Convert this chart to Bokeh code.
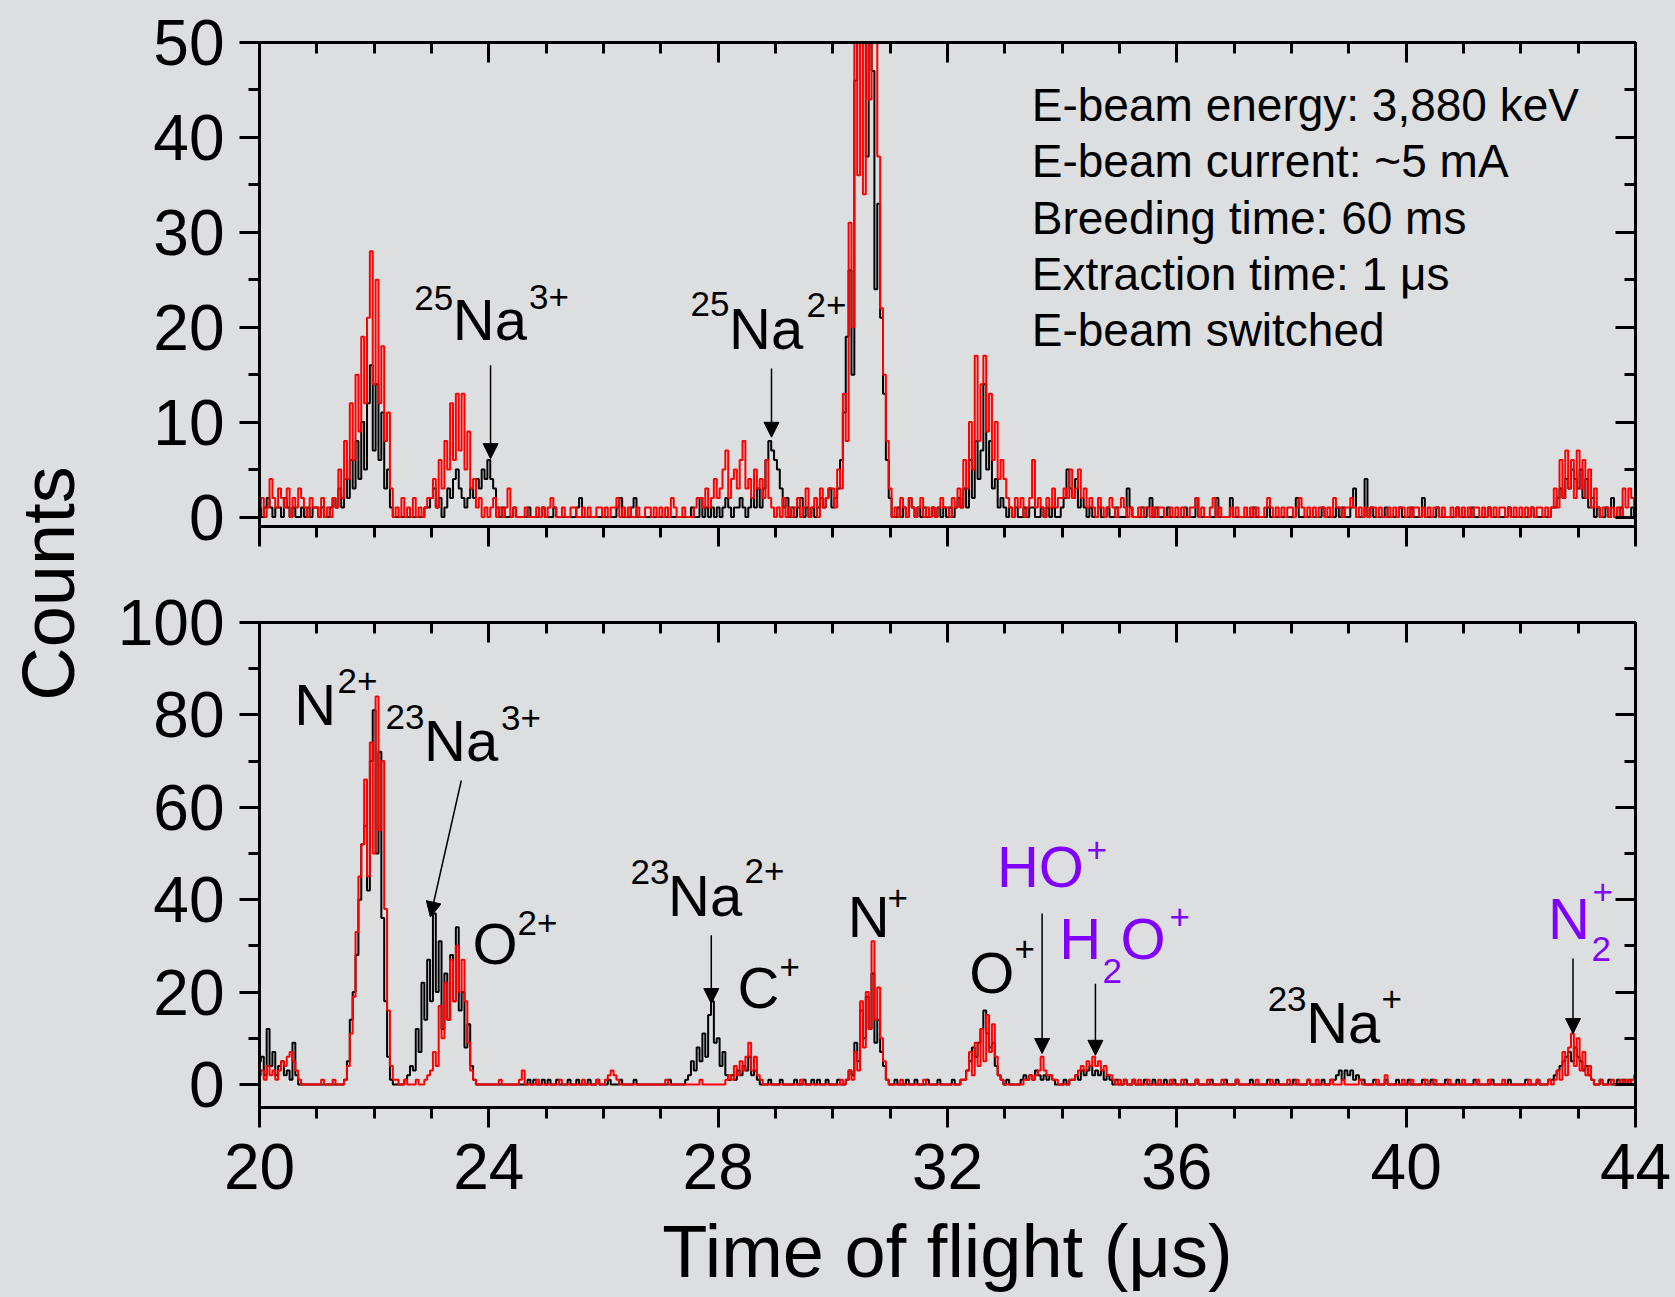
import math
from bokeh.plotting import figure
from bokeh.models import Range1d, LinearAxis, FixedTicker, Label, Arrow, NormalHead, ColumnDataSource
from bokeh.layouts import row, column
from bokeh.embed import file_html
from bokeh.resources import INLINE

# ---------------- data (counts per 0.05 us bin) ----------------
TOF_START = 20.0
TOF_STEP = 0.05

top_black = (
    [1,0,1,2,1,0,1,1,0,2,1,0,1,0,0,1,0,1,0,1] +
    [1,0,1,0,0,1,2,1,3,1,4,2,6,3,8,4,10,5,12,16] +
    [7,14,6,11,3,5,1,0,0,0,0,0,0,0,0,0,0,0,1,1] +
    [2,3,1,2,0,1,3,2,4,5,3,2,1,2,3,2,4,3,5,4] +
    [6,4,3,1,0,1,0,0,0,1,0,0,0,0,1,0,0,0,0,1] +
    [0,0,0,1,0,0,0,0,0,0,0,1,2,0,0,0,0,0,0,0] +
    [0,0,0,0,0,1,2,0,0,0,1,2,0,0,0,0,0,0,0,0] +
    [0,0,0,0,0,0,0,0,0,0,0,1,0,0,2,0,1,0,1,0] +
    [1,0,1,2,1,0,1,1,2,1,0,1,2,1,3,1,3,6,8,7] +
    [6,5,3,1,2,0,1,0,1,2,0,1,0,1,0,1,2,1,2,3] +
    [1,2,3,6,11,19,26,15,46,54,58,57,38,55,47,24,33,21,13,6] +
    [2,0,0,1,0,1,0,2,1,0,1,0,1,0,0,1,0,1,0,1] +
    [0,1,0,1,2,1,3,1,6,2,8,4,7,14,5,8,3,4,1,2] +
    [1,0,1,0,1,0,0,1,0,1,1,0,0,1,0,1,0,1,0,0] +
    [1,2,5,3,2,4,1,2,1,0,1,0,0,1,0,0,1,0,0,1] +
    [0,0,0,3,1,0,0,0,1,0,1,2,0,1,0,0,0,1,0,0] +
    [0,0,0,1,0,0,0,2,0,0,0,0,0,0,2,0,0,0,0,2] +
    [0,0,0,0,0,0,0,1,0,0,0,0,1,0,0,0,0,0,0,0] +
    [0,0,2,0,0,0,0,0,0,0,0,1,0,0,0,0,1,0,1,0] +
    [0,1,3,0,0,0,4,0,1,0,0,0,0,1,0,0,0,0,1,0] +
    [0,0,1,0,0,0,2,0,0,0,0,1,0,0,0,0,0,0,1,0] +
    [0,0,0,1,0,0,0,0,0,1,0,0,0,0,0,0,1,0,0,0] +
    [0,0,0,0,1,0,0,0,0,0,0,1,1,2,3,2,4,3,5,4] +
    [3,5,2,4,1,2,0,1,0,0,1,0,2,0,0,1,0,0,0,1] +
    [0]
)

top_red = (
    [1,2,0,1,4,2,1,3,2,1,3,0,2,1,3,2,1,0,2,1] +
    [1,0,2,0,1,0,2,1,5,2,8,4,12,6,15,9,19,12,21,28] +
    [14,25,12,18,8,11,3,0,1,0,2,0,1,0,2,0,1,0,1,2] +
    [2,4,1,6,3,8,5,12,6,13,7,13,5,9,3,4,1,2,0,1] +
    [0,1,2,0,1,0,1,3,0,1,0,0,0,1,0,0,0,1,0,1] +
    [0,1,2,1,0,0,1,0,0,1,1,0,0,1,0,1,0,0,1,1] +
    [0,1,0,1,1,2,0,1,0,1,0,0,1,0,0,1,1,0,1,0] +
    [1,0,1,0,2,1,0,0,1,0,0,0,1,2,2,1,3,1,2,4] +
    [2,3,5,7,2,4,5,3,6,8,3,4,2,5,3,4,2,6,2,1] +
    [0,1,0,2,0,1,0,1,2,0,1,3,0,1,2,0,3,1,2,3] +
    [3,1,5,3,13,8,31,20,52,36,60,34,62,44,58,52,38,22,15,8] +
    [3,0,1,0,2,1,0,2,1,0,1,2,0,1,0,1,0,1,2,1] +
    [1,0,2,1,3,1,6,3,10,5,17,8,14,17,9,13,6,10,4,6] +
    [4,2,1,0,2,1,2,0,1,2,6,1,2,1,0,2,1,3,1,2] +
    [2,3,2,5,2,3,5,2,3,1,2,1,0,2,1,0,1,2,1,0] +
    [1,2,1,0,1,0,0,1,0,1,1,0,1,0,1,1,0,0,1,0] +
    [1,0,1,0,0,1,1,2,0,1,0,0,1,2,0,1,0,0,0,1] +
    [0,1,0,0,1,0,1,0,1,0,0,1,2,1,0,1,0,1,0,1] +
    [1,0,1,2,1,0,1,0,1,0,1,1,0,1,0,2,1,1,0,1] +
    [1,2,1,0,1,0,1,0,1,1,0,1,0,0,1,0,1,0,1,1] +
    [0,1,0,1,1,0,1,0,1,0,1,1,0,1,0,0,1,0,1,0] +
    [1,0,1,0,1,1,0,1,0,1,0,1,0,1,1,0,1,0,1,0] +
    [1,0,1,0,1,0,1,1,0,1,0,1,3,1,6,2,7,3,6,2] +
    [7,3,6,2,5,1,3,1,0,1,1,0,1,0,1,0,3,1,3,2] +
    [1]
)

bottom_black = (
    [5,6,2,12,4,7,2,4,5,2,3,1,9,2,0,0,0,0,0,0] +
    [0,0,0,0,0,0,0,0,0,0,1,5,14,20,28,40,52,56,42,70] +
    [81,50,72,36,18,6,1,0,0,0,0,1,2,4,3,12,7,22,14,27] +
    [18,37,20,31,12,24,14,28,18,34,16,20,8,13,4,1,0,0,0,0] +
    [0,0,0,0,0,0,0,0,0,0,0,0,0,0,1,0,1,0,0,1] +
    [0,1,0,0,1,0,0,0,1,0,0,1,0,0,0,1,0,0,1,0] +
    [0,0,1,0,0,0,1,0,0,0,0,1,0,0,0,0,0,0,0,0] +
    [0,0,0,1,0,0,0,0,0,1,2,5,3,8,5,11,6,15,18,9] +
    [10,4,7,2,1,2,1,3,2,4,3,6,2,3,1,0,0,0,1,0] +
    [0,0,1,0,0,0,0,1,0,0,1,0,0,1,0,1,0,0,1,0] +
    [0,0,1,0,0,1,3,2,9,5,16,10,19,12,24,9,14,7,4,1] +
    [0,0,1,0,0,0,1,0,0,1,0,0,0,1,0,0,0,1,0,0] +
    [0,0,1,0,0,1,1,3,5,8,6,9,12,16,11,8,9,4,2,1] +
    [0,1,0,0,0,0,1,2,1,2,1,3,2,1,2,1,2,1,0,0] +
    [0,1,0,1,1,2,1,3,2,3,4,2,3,2,3,1,2,1,0,1] +
    [0,0,1,0,0,1,0,0,0,1,0,0,1,0,0,0,1,0,0,1] +
    [0,0,0,1,0,0,0,1,0,0,0,0,1,0,0,0,0,1,0,0] +
    [0,1,0,0,0,0,1,0,0,0,0,0,1,0,0,1,0,0,0,0] +
    [0,1,0,0,0,0,1,0,0,0,0,1,0,0,1,1,2,3,1,3] +
    [2,3,1,2,1,1,0,0,0,1,0,0,0,1,0,0,0,1,0,0] +
    [0,1,0,0,0,0,1,0,0,1,0,0,0,0,1,0,0,0,1,0] +
    [0,0,0,0,1,0,0,0,0,0,1,0,0,0,0,0,1,0,0,0] +
    [0,0,1,0,0,0,1,0,0,0,1,1,2,3,4,5,6,7,5,8] +
    [6,5,3,4,2,1,0,0,1,0,0,1,0,0,1,0,1,0,1,0] +
    [0]
)

bottom_red = (
    [2,3,1,4,2,3,1,3,5,4,6,7,5,3,1,0,0,0,0,0] +
    [0,0,1,0,0,0,1,0,0,0,1,4,11,19,33,45,52,66,45,74] +
    [50,84,55,70,38,16,4,1,1,0,0,1,0,0,0,1,0,0,1,2] +
    [3,7,4,17,10,22,14,27,18,30,20,27,18,9,3,1,0,0,0,0] +
    [0,0,0,0,1,0,0,0,0,0,0,1,3,0,0,0,0,1,0,0] +
    [0,0,0,0,0,1,0,0,0,0,0,0,0,1,0,0,0,0,1,0] +
    [0,1,2,3,2,1,0,0,0,0,0,0,0,0,0,0,0,0,0,0] +
    [0,0,1,0,0,0,0,0,0,0,0,0,0,0,1,0,0,0,0,0] +
    [0,0,0,1,2,1,4,2,5,3,6,9,3,6,2,1,0,0,0,0] +
    [0,0,0,0,0,0,0,0,0,1,0,0,0,0,0,0,0,0,0,0] +
    [0,0,0,1,0,1,3,1,7,3,18,8,20,12,31,14,21,10,5,1] +
    [0,0,0,0,1,0,0,0,0,0,0,0,1,0,0,0,0,0,0,0] +
    [0,0,0,0,0,1,1,3,7,2,9,4,12,5,15,7,13,6,2,1] +
    [0,0,0,0,0,0,0,1,1,2,1,2,3,6,3,2,2,1,1,0] +
    [0,0,0,1,1,2,3,4,3,5,4,6,4,5,3,4,2,2,1,0] +
    [1,0,1,0,0,1,0,1,0,0,1,0,0,0,1,0,0,0,1,0] +
    [0,0,1,0,0,0,0,1,0,0,0,1,0,0,0,0,1,0,0,0] +
    [0,1,0,0,0,0,0,0,1,0,0,0,0,1,0,0,0,0,0,1] +
    [0,0,1,0,0,0,1,0,0,1,0,0,0,0,1,0,0,0,1,0] +
    [0,0,0,0,1,0,0,0,0,0,1,0,0,2,0,0,0,0,0,1] +
    [0,0,1,0,0,0,0,1,0,0,1,0,0,0,0,1,0,0,0,0] +
    [1,0,0,0,0,1,0,0,0,1,0,0,0,0,1,0,0,0,0,0] +
    [0,0,0,1,0,0,1,0,0,0,1,0,1,3,1,7,2,8,11,4] +
    [10,3,7,2,4,1,0,0,1,0,0,0,1,0,0,1,0,1,0,1] +
    [2]
)

x_major_ticks = [20, 24, 28, 32, 36, 40, 44]
x_minor_ticks = list(range(20, 45))
top_y_major = [0, 10, 20, 30, 40, 50]
top_y_minor = [0, 5, 10, 15, 20, 25, 30, 35, 40, 45, 50]
bot_y_major = [0, 20, 40, 60, 80, 100]
bot_y_minor = [0, 10, 20, 30, 40, 50, 60, 70, 80, 90, 100]

info_lines = ["E-beam energy: 3,880 keV", "E-beam current: ~5 mA", "Breeding time: 60 ms",
              "Extraction time: 1 \u03bcs", "E-beam switched"]

tof = [round(TOF_START + TOF_STEP * i, 2) for i in range(len(top_black))]

# ---------------- style ----------------
BG = "#dcdee0"
FONT = "Liberation Sans"
PURPLE = "#8000ff"
MAIN = 58
SUP = 35
BASE_SHIFT = 0.37   # em: anchor-to-baseline shift of Bokeh's text placement

W = 1585
TOP_H, BOT_H = 574, 723
TOP_FRAME_PX, BOT_FRAME_PX = 484.0, 485.0
TOP_YR, BOT_YR = (-1, 50), (-5, 100)


def style_axis(ax, inward, labels):
    ax.axis_line_width = 3
    ax.axis_line_color = "black"
    ax.major_tick_line_width = 3
    ax.minor_tick_line_width = 3
    ax.major_tick_line_color = "black"
    ax.minor_tick_line_color = "black"
    if inward:
        ax.major_tick_in, ax.major_tick_out = 20, 0
        ax.minor_tick_in, ax.minor_tick_out = 11, 0
    else:
        ax.major_tick_in, ax.major_tick_out = 0, 20
        ax.minor_tick_in, ax.minor_tick_out = 0, 11
    ax.major_label_text_font = FONT
    if labels:
        ax.major_label_text_font_size = "64px"
        ax.major_label_text_color = "black"
    else:
        ax.major_label_text_font_size = "1px"
        ax.major_label_text_color = None
        ax.major_label_text_alpha = 0
        ax.major_label_standoff = 0


def make_fig(height, yr, ymaj, ymin, btop, bbot, xlabels):
    p = figure(width=W, height=height, x_range=Range1d(20, 44), y_range=Range1d(*yr),
               output_backend="svg", toolbar_location=None,
               min_border_left=169, min_border_right=40,
               min_border_top=btop, min_border_bottom=bbot,
               background_fill_color=BG, border_fill_color=BG, outline_line_color=None,
               styles={"background-color": BG})
    p.grid.visible = False
    bottom_axis = p.below[0]
    left_axis = p.left[0]
    bottom_axis.ticker = FixedTicker(ticks=x_major_ticks, minor_ticks=x_minor_ticks)
    left_axis.ticker = FixedTicker(ticks=ymaj, minor_ticks=ymin)
    style_axis(bottom_axis, False, xlabels)
    style_axis(left_axis, False, True)
    if xlabels:
        bottom_axis.major_label_standoff = 16
    left_axis.major_label_standoff = 15
    ra = LinearAxis(ticker=FixedTicker(ticks=ymaj, minor_ticks=ymin))
    style_axis(ra, True, False)
    p.add_layout(ra, "right")
    ta = LinearAxis(ticker=FixedTicker(ticks=x_major_ticks, minor_ticks=x_minor_ticks))
    style_axis(ta, True, False)
    p.add_layout(ta, "above")
    return p


def add_text(p, k, text, x, y_base, size, align="left", color="black"):
    # y_base: text baseline in data units; k: pixels per data unit of the panel
    p.add_layout(Label(x=x, y=y_base + BASE_SHIFT * size / k, text=text, text_font=FONT,
                       text_font_size=f"{size}px", text_align=align,
                       text_baseline="alphabetic", text_color=color))


def add_arrow(p, xs, ys, xe, ye):
    p.add_layout(Arrow(end=NormalHead(size=15, fill_color="black", line_color="black", line_width=1),
                       x_start=xs, y_start=ys, x_end=xe, y_end=ye,
                       line_width=1.5, line_color="black"))


# ---------------- top panel ----------------
top = make_fig(TOP_H, TOP_YR, top_y_major, top_y_minor, 42, 48, False)
kt = TOP_FRAME_PX / (TOP_YR[1] - TOP_YR[0])
src_t = ColumnDataSource(dict(tof=tof, black=top_black, red=top_red))
top.step("tof", "black", source=src_t, mode="center", line_color="black", line_width=2)
top.step("tof", "red", source=src_t, mode="center", line_color="#ff0000", line_width=2)

add_text(top, kt, "25", 23.378, 21.76, SUP, "right")
add_text(top, kt, "Na", 23.372, 18.53, MAIN)
add_text(top, kt, "3+", 24.70, 21.83, SUP)
add_arrow(top, 24.03, 16.0, 24.03, 6.15)

add_text(top, kt, "25", 28.198, 21.05, SUP, "right")
add_text(top, kt, "Na", 28.191, 17.55, MAIN)
add_text(top, kt, "2+", 29.541, 21.0, SUP)
add_arrow(top, 28.93, 15.65, 28.93, 8.4)

for line, yb in zip(info_lines, [41.61, 35.71, 29.76, 23.86, 17.92]):
    add_text(top, kt, line, 33.47, yb, 46)

# ---------------- bottom panel ----------------
bot = make_fig(BOT_H, BOT_YR, bot_y_major, bot_y_minor, 48, 190, True)
kb = BOT_FRAME_PX / (BOT_YR[1] - BOT_YR[0])
xa = bot.below[0]
xa.axis_label = "Time of flight (\u03bcs)"
xa.axis_label_text_font = FONT
xa.axis_label_text_font_size = "74px"
xa.axis_label_text_font_style = "normal"
xa.axis_label_text_color = "black"
xa.axis_label_standoff = 18
src_b = ColumnDataSource(dict(tof=tof, black=bottom_black, red=bottom_red))
bot.step("tof", "black", source=src_b, mode="center", line_color="black", line_width=2)
bot.step("tof", "red", source=src_b, mode="center", line_color="#ff0000", line_width=2)

add_text(bot, kb, "N", 20.604, 77.50, MAIN)
add_text(bot, kb, "2+", 21.36, 84.58, SUP)

add_text(bot, kb, "23", 22.878, 76.64, SUP, "right")
add_text(bot, kb, "Na", 22.871, 69.78, MAIN)
add_text(bot, kb, "3+", 24.212, 76.5, SUP)
add_arrow(bot, 23.52, 65.8, 22.98, 36.25)

add_text(bot, kb, "O", 23.715, 25.81, MAIN)
add_text(bot, kb, "2+", 24.50, 32.08, SUP)

add_text(bot, kb, "23", 27.152, 43.11, SUP, "right")
add_text(bot, kb, "Na", 27.127, 36.25, MAIN)
add_text(bot, kb, "2+", 28.46, 43.33, SUP)
add_arrow(bot, 27.88, 32.3, 27.88, 17.5)

add_text(bot, kb, "C", 28.338, 16.44, MAIN)
add_text(bot, kb, "+", 29.07, 22.56, SUP)

add_text(bot, kb, "N", 30.262, 31.80, MAIN)
add_text(bot, kb, "+", 30.954, 37.49, SUP)

add_text(bot, kb, "O", 32.379, 19.53, MAIN)
add_text(bot, kb, "+", 33.169, 26.45, SUP)

add_text(bot, kb, "HO", 32.862, 42.61, MAIN, color=PURPLE)
add_text(bot, kb, "+", 34.425, 48.0, SUP, color=PURPLE)
add_arrow(bot, 33.65, 37.0, 33.65, 6.7)

add_text(bot, kb, "H", 33.949, 26.89, MAIN, color=PURPLE)
add_text(bot, kb, "2", 34.705, 21.85, SUP, color=PURPLE)
add_text(bot, kb, "O", 35.018, 26.89, MAIN, color=PURPLE)
add_text(bot, kb, "+", 35.873, 33.4, SUP, color=PURPLE)
add_arrow(bot, 34.58, 21.8, 34.58, 6.3)

add_text(bot, kb, "23", 38.263, 15.70, SUP, "right")
add_text(bot, kb, "Na", 38.256, 8.72, MAIN)
add_text(bot, kb, "+", 39.571, 15.64, SUP)

add_text(bot, kb, "N", 42.472, 31.21, MAIN, color=PURPLE)
add_text(bot, kb, "2", 43.234, 26.52, SUP, color=PURPLE)
add_text(bot, kb, "+", 43.252, 38.8, SUP, color=PURPLE)
add_arrow(bot, 42.91, 27.25, 42.91, 11.0)

# ---------------- shared y label ----------------
lab = figure(width=90, height=TOP_H + BOT_H, x_range=Range1d(0, 90), y_range=Range1d(0, TOP_H + BOT_H),
             output_backend="svg", toolbar_location=None, min_border=0,
             x_axis_type=None, y_axis_type=None,
             background_fill_color=BG, border_fill_color=BG, outline_line_color=None,
             styles={"background-color": BG})
lab.grid.visible = False
lab.add_layout(Label(x=75 - BASE_SHIFT * 74, y=714, text="Counts", angle=math.pi / 2, text_align="center",
                     text_baseline="alphabetic", text_font=FONT, text_font_size="74px",
                     text_color="black"))

right_col = column(top, bot, spacing=0, styles={"background-color": BG})
layout = row(lab, right_col, spacing=0, styles={"background-color": BG})
open("out.html", "w").write(file_html(layout, INLINE))
